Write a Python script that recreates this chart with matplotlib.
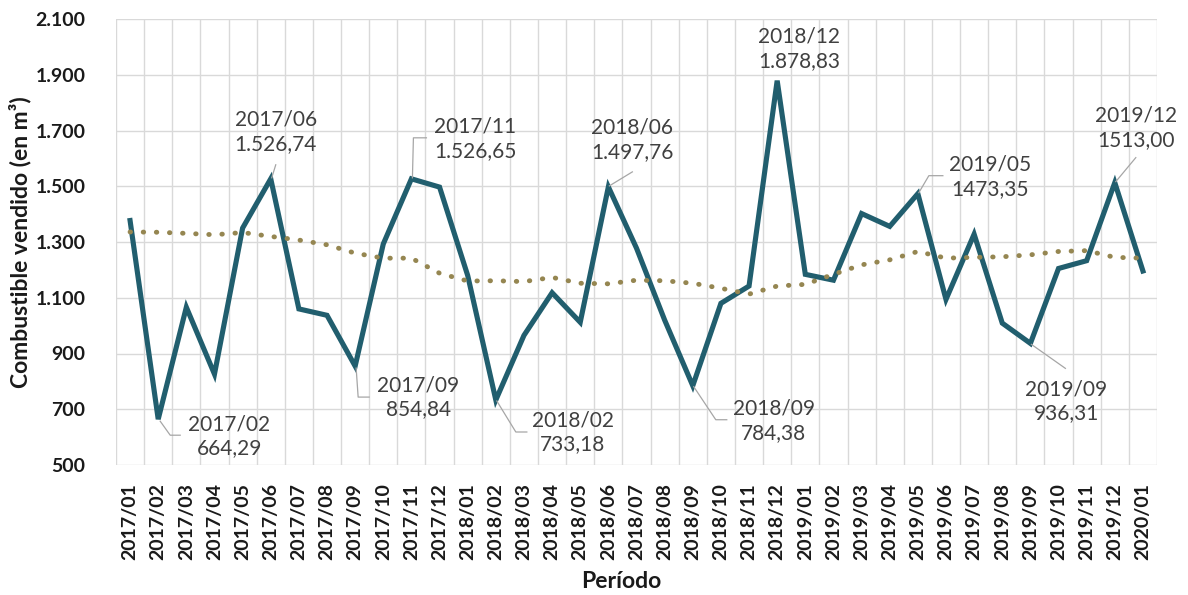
import matplotlib
matplotlib.use("Agg")
import matplotlib.pyplot as plt
import numpy as np
from matplotlib.ticker import FuncFormatter, FixedLocator

# Datos
periodos = [f"{a}/{m:02d}" for a in (2017, 2018, 2019) for m in range(1, 13)] + ["2020/01"]

ventas = [1377, 664.29, 1066, 826, 1350, 1526.74, 1060, 1037, 854.84, 1293,
          1526.65, 1497, 1180, 733.18, 965, 1118, 1012, 1497.76, 1278, 1020,
          784.38, 1080, 1142, 1878.83, 1184, 1163, 1402, 1356, 1473.35, 1094,
          1328, 1009, 936.31, 1205, 1233, 1513.00, 1196]

tendencia = [1336, 1335, 1331, 1326, 1334, 1320, 1307, 1290, 1260, 1242,
             1242, 1188, 1160, 1161, 1158, 1173, 1152, 1150, 1163, 1161,
             1152, 1134, 1113, 1142, 1148, 1184, 1218, 1236, 1266, 1242,
             1245, 1247, 1254, 1266, 1269, 1245, 1242]

etiquetas = {
    "2017/02": "664,29",
    "2017/06": "1.526,74",
    "2017/09": "854,84",
    "2017/11": "1.526,65",
    "2018/02": "733,18",
    "2018/06": "1.497,76",
    "2018/09": "784,38",
    "2018/12": "1.878,83",
    "2019/05": "1473,35",
    "2019/09": "936,31",
    "2019/12": "1513,00",
}

# posicion del texto y guia, en pixeles respecto al punto (y hacia abajo)
layout = {
    "2017/02": ((71, 17), [(2, 2), (12, 16), (22, 16)]),
    "2017/06": ((5, -47), [(1, -1), (5, -14)]),
    "2017/09": ((63, 31), [(1, 2), (3, 31), (14, 31)]),
    "2017/11": ((64, -40), [(1, -1), (2, -41), (15, -41)]),
    "2018/02": ((77, 32), [(1, 1), (20, 32), (31, 32)]),
    "2018/06": ((24, -47), [(1, -1), (24, -15)]),
    "2018/09": ((81, 35), [(1, 1), (23, 34), (34, 34)]),
    "2018/12": ((22, -32), []),
    "2019/05": ((72, -17), [(1, -1), (11, -18), (25, -18)]),
    "2019/09": ((36, 58), [(1, 1), (35, 25)]),
    "2019/12": ((21, -55), [(1, -1), (21, -25)]),
}

plt.rcParams['font.family'] = ['Lato', 'DejaVu Sans']

fig = plt.figure(figsize=(11.88, 5.95), dpi=100)
ax = fig.add_axes([116 / 1188, 1 - 465 / 595, 1041 / 1188, 446 / 595])

x = np.arange(len(periodos))
ax.plot(x, ventas, color='#215E6E', lw=3.7, solid_joinstyle='miter', zorder=3)
ax.plot(x, tendencia, color='#958651', lw=3.5, linestyle=(0, (0.1, 2.6)),
        dash_capstyle='round', zorder=4)

ax.set_xlim(-0.5, len(periodos) - 0.5)
ax.set_ylim(500, 2100)
ax.set_yticks(np.arange(500, 2101, 200))
ax.yaxis.set_major_formatter(FuncFormatter(lambda v, p: f"{int(v):,}".replace(",", ".")))
ax.set_xticks(x)
ax.set_xticklabels(periodos, rotation=90)
ax.xaxis.set_minor_locator(FixedLocator(np.arange(-0.5, len(periodos), 1.0)))

ax.grid(axis='y', which='major', color='#D9D9D9', lw=1.0, zorder=0)
ax.grid(axis='x', which='minor', color='#D9D9D9', lw=1.0, zorder=0)
ax.set_axisbelow(True)
for s in ax.spines.values():
    s.set_visible(False)
ax.tick_params(axis='both', which='both', length=0)
ax.tick_params(axis='y', pad=22, labelsize=14, labelcolor='#1a1a1a')
ax.tick_params(axis='x', pad=13, labelsize=14, labelcolor='#1a1a1a')
for lab in ax.get_xticklabels() + ax.get_yticklabels():
    lab.set_fontweight('bold')

fig.text(20 / 1188, 1 - 242 / 595, "Combustible vendido (en m³)", rotation=90,
         ha='center', va='center', fontsize=16.5, fontweight='bold', color='#1a1a1a')
fig.text(621 / 1188, 1 - 582 / 595, "Período", ha='center', va='center',
         fontsize=16.5, fontweight='bold', color='#1a1a1a')

# etiquetas de datos con lineas guia
for per, val_txt in etiquetas.items():
    i = periodos.index(per)
    px, py = ax.transData.transform((i, ventas[i]))
    (tx, ty), guia = layout[per]
    if guia:
        verts = np.array([(px + dx, py - dy) for dx, dy in guia])
        dv = ax.transData.inverted().transform(verts)
        ax.plot(dv[:, 0], dv[:, 1], color='#A6A6A6', lw=0.9, clip_on=False, zorder=5)
    ax.annotate(f"{per}\n{val_txt}", xy=(i, ventas[i]), xytext=(tx, -ty),
                textcoords='offset pixels', ha='center', va='center',
                fontsize=15, color='#404040', linespacing=1.25, zorder=6,
                annotation_clip=False)

fig.savefig("out.png", dpi=100)
